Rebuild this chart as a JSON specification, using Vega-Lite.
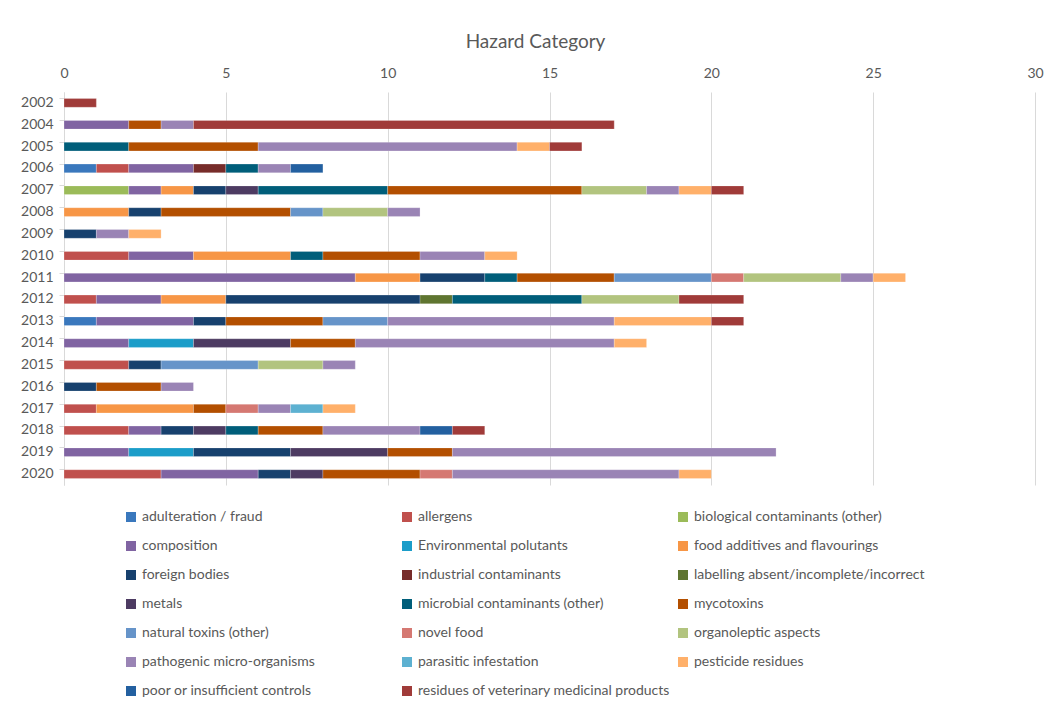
{
  "$schema": "https://vega.github.io/schema/vega-lite/v6.json",
  "width": 971,
  "height": 393,
  "autosize": {"type": "none"},
  "padding": {"left": 64, "top": 92, "right": 17, "bottom": 225},
  "background": "white",
  "title": {
    "text": "Hazard Category",
    "font": "Lato",
    "fontSize": 19,
    "fontWeight": "normal",
    "color": "#595959",
    "anchor": "middle",
    "dx": -14,
    "offset": 14
  },
  "datasets": {
    "categories": [
      {"c": "adulteration / fraud", "rank": 1},
      {"c": "allergens", "rank": 2},
      {"c": "biological contaminants (other)", "rank": 3},
      {"c": "composition", "rank": 4},
      {"c": "Environmental polutants", "rank": 5},
      {"c": "food additives and flavourings", "rank": 6},
      {"c": "foreign bodies", "rank": 7},
      {"c": "industrial contaminants", "rank": 8},
      {"c": "labelling absent/incomplete/incorrect", "rank": 9},
      {"c": "metals", "rank": 10},
      {"c": "microbial contaminants (other)", "rank": 11},
      {"c": "mycotoxins", "rank": 12},
      {"c": "natural toxins (other)", "rank": 13},
      {"c": "novel food", "rank": 14},
      {"c": "organoleptic aspects", "rank": 15},
      {"c": "pathogenic micro-organisms", "rank": 16},
      {"c": "parasitic infestation", "rank": 17},
      {"c": "pesticide residues", "rank": 18},
      {"c": "poor or insufficient controls", "rank": 19},
      {"c": "residues of veterinary medicinal products", "rank": 20}
    ]
  },
  "data": {
    "values": [
      {"year": "2002", "c": "residues of veterinary medicinal products", "n": 1},

      {"year": "2004", "c": "composition", "n": 2},
      {"year": "2004", "c": "mycotoxins", "n": 1},
      {"year": "2004", "c": "pathogenic micro-organisms", "n": 1},
      {"year": "2004", "c": "residues of veterinary medicinal products", "n": 13},

      {"year": "2005", "c": "microbial contaminants (other)", "n": 2},
      {"year": "2005", "c": "mycotoxins", "n": 4},
      {"year": "2005", "c": "pathogenic micro-organisms", "n": 8},
      {"year": "2005", "c": "pesticide residues", "n": 1},
      {"year": "2005", "c": "residues of veterinary medicinal products", "n": 1},

      {"year": "2006", "c": "adulteration / fraud", "n": 1},
      {"year": "2006", "c": "allergens", "n": 1},
      {"year": "2006", "c": "composition", "n": 2},
      {"year": "2006", "c": "industrial contaminants", "n": 1},
      {"year": "2006", "c": "microbial contaminants (other)", "n": 1},
      {"year": "2006", "c": "pathogenic micro-organisms", "n": 1},
      {"year": "2006", "c": "poor or insufficient controls", "n": 1},

      {"year": "2007", "c": "biological contaminants (other)", "n": 2},
      {"year": "2007", "c": "composition", "n": 1},
      {"year": "2007", "c": "food additives and flavourings", "n": 1},
      {"year": "2007", "c": "foreign bodies", "n": 1},
      {"year": "2007", "c": "metals", "n": 1},
      {"year": "2007", "c": "microbial contaminants (other)", "n": 4},
      {"year": "2007", "c": "mycotoxins", "n": 6},
      {"year": "2007", "c": "organoleptic aspects", "n": 2},
      {"year": "2007", "c": "pathogenic micro-organisms", "n": 1},
      {"year": "2007", "c": "pesticide residues", "n": 1},
      {"year": "2007", "c": "residues of veterinary medicinal products", "n": 1},

      {"year": "2008", "c": "food additives and flavourings", "n": 2},
      {"year": "2008", "c": "foreign bodies", "n": 1},
      {"year": "2008", "c": "mycotoxins", "n": 4},
      {"year": "2008", "c": "natural toxins (other)", "n": 1},
      {"year": "2008", "c": "organoleptic aspects", "n": 2},
      {"year": "2008", "c": "pathogenic micro-organisms", "n": 1},

      {"year": "2009", "c": "foreign bodies", "n": 1},
      {"year": "2009", "c": "pathogenic micro-organisms", "n": 1},
      {"year": "2009", "c": "pesticide residues", "n": 1},

      {"year": "2010", "c": "allergens", "n": 2},
      {"year": "2010", "c": "composition", "n": 2},
      {"year": "2010", "c": "food additives and flavourings", "n": 3},
      {"year": "2010", "c": "microbial contaminants (other)", "n": 1},
      {"year": "2010", "c": "mycotoxins", "n": 3},
      {"year": "2010", "c": "pathogenic micro-organisms", "n": 2},
      {"year": "2010", "c": "pesticide residues", "n": 1},

      {"year": "2011", "c": "composition", "n": 9},
      {"year": "2011", "c": "food additives and flavourings", "n": 2},
      {"year": "2011", "c": "foreign bodies", "n": 2},
      {"year": "2011", "c": "microbial contaminants (other)", "n": 1},
      {"year": "2011", "c": "mycotoxins", "n": 3},
      {"year": "2011", "c": "natural toxins (other)", "n": 3},
      {"year": "2011", "c": "novel food", "n": 1},
      {"year": "2011", "c": "organoleptic aspects", "n": 3},
      {"year": "2011", "c": "pathogenic micro-organisms", "n": 1},
      {"year": "2011", "c": "pesticide residues", "n": 1},

      {"year": "2012", "c": "allergens", "n": 1},
      {"year": "2012", "c": "composition", "n": 2},
      {"year": "2012", "c": "food additives and flavourings", "n": 2},
      {"year": "2012", "c": "foreign bodies", "n": 6},
      {"year": "2012", "c": "labelling absent/incomplete/incorrect", "n": 1},
      {"year": "2012", "c": "microbial contaminants (other)", "n": 4},
      {"year": "2012", "c": "organoleptic aspects", "n": 3},
      {"year": "2012", "c": "residues of veterinary medicinal products", "n": 2},

      {"year": "2013", "c": "adulteration / fraud", "n": 1},
      {"year": "2013", "c": "composition", "n": 3},
      {"year": "2013", "c": "foreign bodies", "n": 1},
      {"year": "2013", "c": "mycotoxins", "n": 3},
      {"year": "2013", "c": "natural toxins (other)", "n": 2},
      {"year": "2013", "c": "pathogenic micro-organisms", "n": 7},
      {"year": "2013", "c": "pesticide residues", "n": 3},
      {"year": "2013", "c": "residues of veterinary medicinal products", "n": 1},

      {"year": "2014", "c": "composition", "n": 2},
      {"year": "2014", "c": "Environmental polutants", "n": 2},
      {"year": "2014", "c": "metals", "n": 3},
      {"year": "2014", "c": "mycotoxins", "n": 2},
      {"year": "2014", "c": "pathogenic micro-organisms", "n": 8},
      {"year": "2014", "c": "pesticide residues", "n": 1},

      {"year": "2015", "c": "allergens", "n": 2},
      {"year": "2015", "c": "foreign bodies", "n": 1},
      {"year": "2015", "c": "natural toxins (other)", "n": 3},
      {"year": "2015", "c": "organoleptic aspects", "n": 2},
      {"year": "2015", "c": "pathogenic micro-organisms", "n": 1},

      {"year": "2016", "c": "foreign bodies", "n": 1},
      {"year": "2016", "c": "mycotoxins", "n": 2},
      {"year": "2016", "c": "pathogenic micro-organisms", "n": 1},

      {"year": "2017", "c": "allergens", "n": 1},
      {"year": "2017", "c": "food additives and flavourings", "n": 3},
      {"year": "2017", "c": "mycotoxins", "n": 1},
      {"year": "2017", "c": "novel food", "n": 1},
      {"year": "2017", "c": "pathogenic micro-organisms", "n": 1},
      {"year": "2017", "c": "parasitic infestation", "n": 1},
      {"year": "2017", "c": "pesticide residues", "n": 1},

      {"year": "2018", "c": "allergens", "n": 2},
      {"year": "2018", "c": "composition", "n": 1},
      {"year": "2018", "c": "foreign bodies", "n": 1},
      {"year": "2018", "c": "metals", "n": 1},
      {"year": "2018", "c": "microbial contaminants (other)", "n": 1},
      {"year": "2018", "c": "mycotoxins", "n": 2},
      {"year": "2018", "c": "pathogenic micro-organisms", "n": 3},
      {"year": "2018", "c": "poor or insufficient controls", "n": 1},
      {"year": "2018", "c": "residues of veterinary medicinal products", "n": 1},

      {"year": "2019", "c": "composition", "n": 2},
      {"year": "2019", "c": "Environmental polutants", "n": 2},
      {"year": "2019", "c": "foreign bodies", "n": 3},
      {"year": "2019", "c": "metals", "n": 3},
      {"year": "2019", "c": "mycotoxins", "n": 2},
      {"year": "2019", "c": "pathogenic micro-organisms", "n": 10},

      {"year": "2020", "c": "allergens", "n": 3},
      {"year": "2020", "c": "composition", "n": 3},
      {"year": "2020", "c": "foreign bodies", "n": 1},
      {"year": "2020", "c": "metals", "n": 1},
      {"year": "2020", "c": "mycotoxins", "n": 3},
      {"year": "2020", "c": "novel food", "n": 1},
      {"year": "2020", "c": "pathogenic micro-organisms", "n": 7},
      {"year": "2020", "c": "pesticide residues", "n": 1}
    ]
  },
  "transform": [
    {"lookup": "c", "from": {"data": {"name": "categories"}, "key": "c", "fields": ["rank"]}}
  ],
  "mark": {"type": "bar", "stroke": "white", "strokeWidth": 0.4, "strokeOpacity": 0.6},
  "encoding": {
    "y": {
      "field": "year",
      "type": "ordinal",
      "sort": "ascending",
      "scale": {"paddingInner": 0.6, "paddingOuter": 0.3},
      "axis": {
        "title": null,
        "labelFont": "Lato",
        "labelFontSize": 14,
        "labelColor": "#595959",
        "labelPadding": 6,
        "domainColor": "#d9d9d9",
        "tickColor": "#d9d9d9",
        "tickSize": 5,
        "bandPosition": 0,
        "grid": false
      }
    },
    "x": {
      "field": "n",
      "type": "quantitative",
      "aggregate": "sum",
      "stack": "zero",
      "scale": {"domain": [0, 30], "nice": false},
      "axis": {
        "orient": "top",
        "title": null,
        "values": [0, 5, 10, 15, 20, 25, 30],
        "labelFont": "Lato",
        "labelFontSize": 14,
        "labelColor": "#595959",
        "labelPadding": 12,
        "labelFlush": false,
        "domain": false,
        "ticks": false,
        "grid": true,
        "gridColor": "#d9d9d9",
        "gridWidth": 1
      }
    },
    "order": {"field": "rank", "aggregate": "min", "type": "quantitative"},
    "color": {
      "field": "c",
      "type": "nominal",
      "scale": {
        "domain": [
          "adulteration / fraud",
          "allergens",
          "biological contaminants (other)",
          "composition",
          "Environmental polutants",
          "food additives and flavourings",
          "foreign bodies",
          "industrial contaminants",
          "labelling absent/incomplete/incorrect",
          "metals",
          "microbial contaminants (other)",
          "mycotoxins",
          "natural toxins (other)",
          "novel food",
          "organoleptic aspects",
          "pathogenic micro-organisms",
          "parasitic infestation",
          "pesticide residues",
          "poor or insufficient controls",
          "residues of veterinary medicinal products"
        ],
        "range": [
          "#3a78bd", "#c0504d", "#9bbb59", "#8064a2", "#1b9dc9",
          "#f79646", "#17416e", "#772c2a", "#5f7530", "#4d3b62",
          "#005e7a", "#b34f00", "#6694c9", "#d57872", "#b2c47f",
          "#9a84b5", "#5db1d1", "#ffb06a", "#2360a0", "#a03b39"
        ]
      },
      "legend": {
        "orient": "none",
        "legendX": 60,
        "legendY": 418,
        "direction": "horizontal",
        "title": null,
        "columns": 3,
        "gridAlign": "all",
        "columnPadding": 5,
        "rowPadding": 15,
        "padding": 0,
        "symbolType": "square",
        "symbolSize": 100,
        "symbolStrokeWidth": 0,
        "labelOffset": 4,
        "labelFont": "Lato",
        "labelFontSize": 14,
        "labelColor": "#595959",
        "labelLimit": 400
      }
    }
  },
  "config": {
    "view": {"stroke": null},
    "font": "Lato"
  }
}
